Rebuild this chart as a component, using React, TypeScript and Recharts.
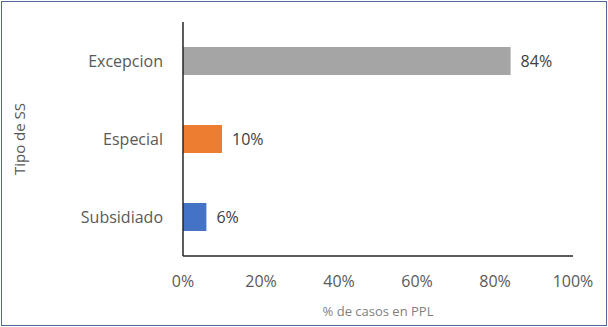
import React from 'react';
import { BarChart, Bar, XAxis, YAxis, Cell, LabelList } from 'recharts';

const categories = ['Excepcion', 'Especial', 'Subsidiado'];
const values = [84, 10, 6];
const colors = ['#a5a5a5', '#ed7d31', '#4472c4'];
const xTicks = [0, 20, 40, 60, 80, 100];

const data = categories.map((c, i) => ({ name: c, value: values[i] }));

const FONT = "'Open Sans', sans-serif";

export default function App() {
  return (
    <div style={{ position: 'fixed', left: 0, top: 0, width: 608, height: 327, background: '#fff' }}>
      <div style={{ position: 'absolute', left: 1, top: 1, width: 604, height: 323, border: '1px solid #4f6b9a' }} />
      <BarChart
        width={608}
        height={327}
        data={data}
        layout="vertical"
        margin={{ top: 22, right: 35, bottom: 0, left: 0 }}
        barCategoryGap={25}
      >
        <XAxis
          type="number"
          domain={[0, 100]}
          ticks={xTicks}
          tickFormatter={(v) => `${v}%`}
          axisLine={{ stroke: '#262626', strokeWidth: 1.5 }}
          tickLine={false}
          tickSize={0}
          tickMargin={20}
          height={71}
          tick={{ fill: '#595959', fontSize: 16, fontFamily: FONT }}
          label={{
            content: (props: any) => {
              const vb = props.viewBox;
              return (
                <text x={vb.x + vb.width / 2} y={vb.y + 60} textAnchor="middle" fill="#7f7f7f" fontSize={13} fontFamily={FONT}>
                  % de casos en PPL
                </text>
              );
            },
          }}
        />
        <YAxis
          type="category"
          dataKey="name"
          width={183}
          axisLine={{ stroke: '#262626', strokeWidth: 1.5 }}
          tickLine={false}
          tickSize={0}
          tickMargin={20}
          tick={{ fill: '#595959', fontSize: 16, fontFamily: FONT }}
          label={{
            content: (props: any) => {
              const vb = props.viewBox;
              const x = 25;
              const y = vb.y + vb.height / 2;
              return (
                <text x={x} y={y} transform={`rotate(-90 ${x} ${y})`} textAnchor="middle" fill="#595959" fontSize={15} fontFamily={FONT}>
                  Tipo de SS
                </text>
              );
            },
          }}
        />
        <Bar dataKey="value" barSize={28} isAnimationActive={false}>
          {data.map((d, i) => (
            <Cell key={d.name} fill={colors[i]} />
          ))}
          <LabelList
            dataKey="value"
            position="right"
            offset={10}
            formatter={(v: any) => `${v}%`}
            style={{ fill: '#404040', fontSize: 16, fontFamily: FONT }}
          />
        </Bar>
      </BarChart>
    </div>
  );
}
